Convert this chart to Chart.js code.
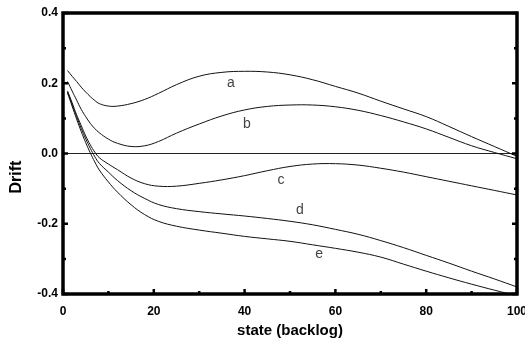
<!DOCTYPE html>
<html lang="en">
<head>
<meta charset="UTF-8">
<title>Drift</title>
<script src="https://cdn.jsdelivr.net/npm/chart.js"></script>
<style>
  body { margin: 0; background: #fff; }
  #wrap { width: 525px; height: 345px; }
</style>
</head>
<body>
<div id="wrap"><canvas id="chart" width="525" height="345"></canvas></div>
<script>
// state values shared by all five curves
const states = [1, 2, 3, 4, 5, 6, 7, 8, 10, 12, 15, 18, 21, 25, 30, 35, 40, 45, 50, 55, 60, 65, 70, 75, 80, 85, 90, 95, 100];

const driftA = [0.236, 0.22, 0.205, 0.189, 0.175, 0.162, 0.151, 0.142, 0.135, 0.135, 0.142, 0.154, 0.171, 0.196, 0.22, 0.231, 0.234, 0.232, 0.224, 0.21, 0.191, 0.172, 0.149, 0.127, 0.105, 0.077, 0.048, 0.02, -0.008];
const driftB = [0.205, 0.178, 0.152, 0.126, 0.105, 0.086, 0.071, 0.059, 0.041, 0.029, 0.02, 0.022, 0.034, 0.058, 0.084, 0.107, 0.124, 0.134, 0.138, 0.138, 0.133, 0.123, 0.108, 0.09, 0.07, 0.046, 0.022, 0.003, -0.015];
const driftC = [0.178, 0.145, 0.11, 0.08, 0.05, 0.025, 0.004, -0.012, -0.03, -0.046, -0.07, -0.086, -0.093, -0.093, -0.085, -0.075, -0.063, -0.049, -0.037, -0.03, -0.029, -0.033, -0.042, -0.053, -0.066, -0.079, -0.092, -0.105, -0.118];
const driftD = [0.175, 0.14, 0.105, 0.072, 0.042, 0.015, -0.009, -0.028, -0.053, -0.077, -0.106, -0.128, -0.145, -0.157, -0.1655, -0.172, -0.178, -0.185, -0.193, -0.203, -0.216, -0.23, -0.248, -0.268, -0.29, -0.312, -0.335, -0.357, -0.38];
const driftE = [0.172, 0.135, 0.098, 0.063, 0.031, 0.002, -0.024, -0.047, -0.081, -0.11, -0.146, -0.174, -0.193, -0.207, -0.218, -0.227, -0.236, -0.243, -0.25, -0.26, -0.27, -0.281, -0.295, -0.315, -0.335, -0.354, -0.372, -0.389, -0.405];

// curve letters and where they sit (data coords)
const curveNames = ['a', 'b', 'c', 'd', 'e'];
const nameX = [37.0, 40.5, 48.0, 52.2, 56.4];
const nameY = [0.201, 0.084, -0.075, -0.161, -0.286];

const xMin = 0, xMax = 100, yMin = -0.4, yMax = 0.4;

function curve(values) {
    return {
        data: states.map((s, i) => ({ x: s, y: values[i] })),
        borderColor: '#111',
        borderWidth: 1,
        pointRadius: 0,
        fill: false,
        tension: 0.4
    };
}

// inward ticks, heavy frame, curve letters and the y title
const framePlugin = {
    id: 'frame',
    afterDatasetsDraw(chart) {
        const { ctx, chartArea: a, scales: { x, y } } = chart;
        ctx.save();
        ctx.strokeStyle = '#000';
        ctx.lineWidth = 2.5;
        ctx.beginPath();
        for (let v = 0; v <= 100; v += 10) {
            const px = x.getPixelForValue(v);
            const len = v % 20 === 0 ? 5 : 3;
            ctx.moveTo(px, a.bottom);
            ctx.lineTo(px, a.bottom - len);
        }
        for (let k = -4; k <= 4; k++) {
            const py = y.getPixelForValue(k / 10);
            const len = k % 2 === 0 ? 5 : 3;
            ctx.moveTo(a.left, py);
            ctx.lineTo(a.left + len, py);
            ctx.moveTo(a.right, py);
            ctx.lineTo(a.right - len, py);
        }
        ctx.stroke();

        ctx.lineWidth = 3.5;
        ctx.strokeRect(a.left, a.top, a.right - a.left, a.bottom - a.top);

        ctx.fillStyle = '#444';
        ctx.font = '14px "Liberation Sans", Arial, sans-serif';
        ctx.textAlign = 'center';
        ctx.textBaseline = 'middle';
        curveNames.forEach((n, i) => {
            ctx.fillText(n, x.getPixelForValue(nameX[i]), y.getPixelForValue(nameY[i]));
        });

        ctx.fillStyle = '#000';
        ctx.font = 'bold 16px "Liberation Sans", Arial, sans-serif';
        ctx.translate(17, 177);
        ctx.rotate(-Math.PI / 2);
        ctx.fillText('Drift', 0, 0);
        ctx.restore();
    }
};

const tickFont = { family: '"Liberation Sans", Arial, sans-serif', size: 12, weight: 'bold' };

new Chart(document.getElementById('chart'), {
    type: 'line',
    data: {
        datasets: [
            curve(driftA), curve(driftB), curve(driftC), curve(driftD), curve(driftE),
            {
                data: [{ x: xMin, y: 0 }, { x: xMax, y: 0 }],
                borderColor: '#222',
                borderWidth: 1,
                pointRadius: 0
            }
        ]
    },
    options: {
        responsive: false,
        animation: false,
        layout: { padding: { top: 13, right: 8, left: 0, bottom: 0 } },
        plugins: { legend: { display: false }, tooltip: { enabled: false } },
        scales: {
            x: {
                type: 'linear',
                min: xMin, max: xMax,
                grid: { display: false, drawTicks: false },
                border: { display: false },
                ticks: { stepSize: 20, color: '#000', font: tickFont, padding: 10, maxRotation: 0 },
                title: {
                    display: true, text: 'state (backlog)', color: '#000',
                    font: { family: '"Liberation Sans", Arial, sans-serif', size: 15, weight: 'bold' },
                    padding: { top: 0, bottom: 5 }
                },
                afterFit(s) { s.height = 51; s.paddingRight = 0; s.paddingLeft = 0; }
            },
            y: {
                min: yMin, max: yMax,
                grid: { display: false, drawTicks: false },
                border: { display: false },
                ticks: {
                    stepSize: 0.2, color: '#000', font: tickFont, padding: 5,
                    callback: v => (Math.abs(v) < 1e-9 ? 0 : v).toFixed(1)
                },
                afterFit(s) { s.width = 63; }
            }
        }
    },
    plugins: [framePlugin]
});
</script>
</body>
</html>
